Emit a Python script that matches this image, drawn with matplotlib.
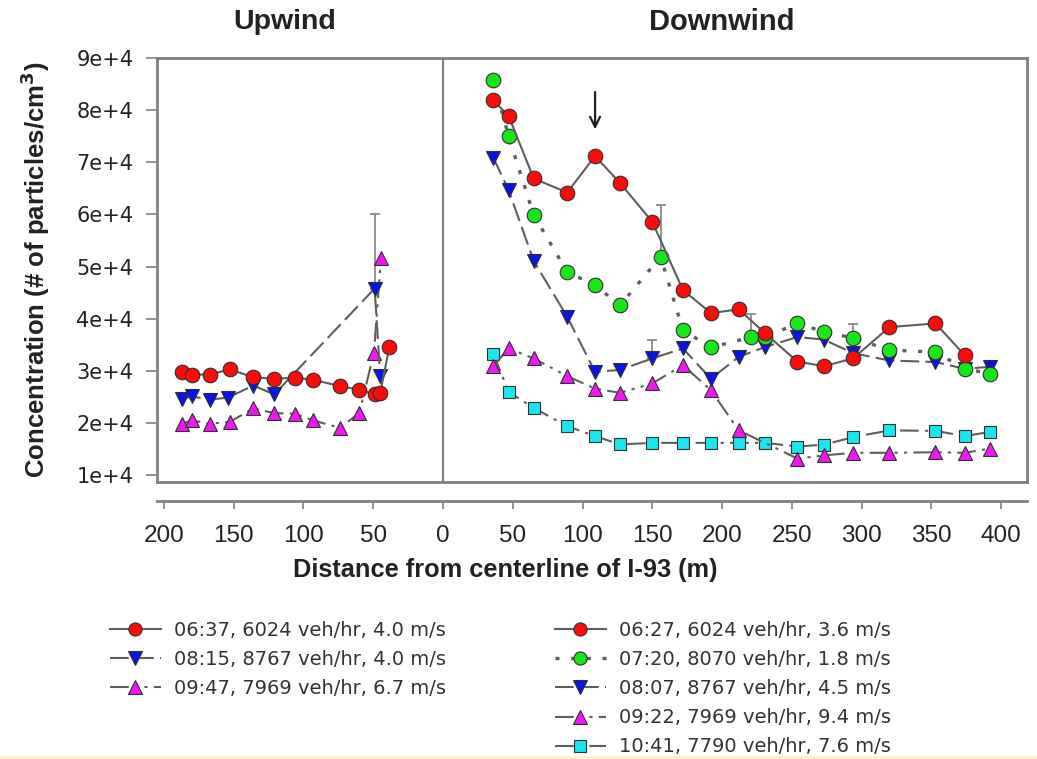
import matplotlib

matplotlib.use("Agg")
import matplotlib.pyplot as plt
from matplotlib.lines import Line2D
from matplotlib.ticker import FixedLocator, FuncFormatter

plt.rcParams["font.family"] = ["Liberation Sans", "DejaVu Sans"]

# upwind distances are stored as negative numbers, labels show abs value
up_x_0637 = [-187, -180, -167, -153, -136, -121, -106, -93, -74, -60, -49, -45, -38.5]
up_y_0637 = [29700, 29300, 29300, 30300, 28800, 28500, 28700, 28300, 27100, 26400, 25500, 25800, 34500]
up_x_0815 = [-187, -180, -167, -154, -136, -121, -49, -45]
up_y_0815 = [24700, 25100, 24500, 24900, 27200, 25500, 45800, 29000]
up_x_0947 = [-187, -180, -167, -153, -136, -121, -106, -93, -74, -60, -49.5, -44.5]
up_y_0947 = [19900, 20500, 19900, 20200, 22800, 21900, 21800, 20500, 19100, 21900, 33500, 51600]

dn_x_0627 = [36, 47, 65, 89, 109, 127, 150, 172, 192, 212, 231, 254, 273, 294, 320, 353, 374]
dn_y_0627 = [81900, 78900, 66900, 64200, 71200, 66000, 58600, 45500, 41100, 41800,
             37200, 31800, 30900, 32400, 38400, 39100, 33000]
dn_x_0720 = [36, 47, 65, 89, 109, 127, 156, 172, 192, 221, 231, 254, 273, 294, 320, 353, 374, 392]
dn_y_0720 = [85800, 75000, 59900, 49000, 46400, 42600, 51900, 37800, 34500, 36500,
             36500, 39100, 37500, 36300, 34000, 33600, 30400, 29500]
dn_x_0807 = [36, 47, 65, 89, 109, 127, 150, 172, 192, 212, 231, 254, 273, 294, 320, 353, 374, 392]
dn_y_0807 = [70900, 64700, 51100, 40400, 29800, 30200, 32400, 34300, 28500, 32700,
             34600, 36500, 36000, 33400, 32000, 31700, 30400, 30800]
dn_x_0922 = [36, 47, 65, 89, 109, 127, 150, 172, 192, 212, 254, 273, 294, 320, 353, 374, 392]
dn_y_0922 = [30900, 34300, 32400, 29000, 26600, 25800, 27600, 31100, 26300, 18600,
             13200, 13800, 14300, 14300, 14400, 14300, 15100]
dn_x_1041 = [36, 47, 65, 89, 109, 127, 150, 172, 192, 212, 231, 254, 273, 294, 320, 353, 374, 392]
dn_y_1041 = [33300, 26000, 22900, 19400, 17500, 15900, 16200, 16200, 16200, 16200,
             16200, 15500, 15850, 17300, 18600, 18500, 17500, 18300]

# upper-only error bars: (x, y, upper end)
err_x = [-49, 150, 156, 221, 294]
err_y = [45800, 32400, 51900, 36500, 36300]
err_top = [60000, 36000, 61800, 41000, 39000]

labels_up = ["06:37, 6024 veh/hr, 4.0 m/s", "08:15, 8767 veh/hr, 4.0 m/s",
             "09:47, 7969 veh/hr, 6.7 m/s"]
labels_dn = ["06:27, 6024 veh/hr, 3.6 m/s", "07:20, 8070 veh/hr, 1.8 m/s",
             "08:07, 8767 veh/hr, 4.5 m/s", "09:22, 7969 veh/hr, 9.4 m/s",
             "10:41, 7790 veh/hr, 7.6 m/s"]

xticks = list(range(-200, 401, 50))
yticks = [10000, 20000, 30000, 40000, 50000, 60000, 70000, 80000, 90000]

LINE = "#5e5e5e"
EDGE = "#303030"
TXT = "#222222"
SOLID = "-"
DASH = (0, (9, 3))
DOT = (0, (1.2, 3.5))
DASHDOT = (0, (9, 3, 1.5, 3, 1.5, 3))
CYANDASH = (0, (9, 3, 1.5, 3))

styles = {
    "red": dict(color=LINE, ls=SOLID, marker="o", mfc="#ff0a0a", ms=10.5),
    "green": dict(color=LINE, ls=DOT, marker="o", mfc="#17e617", ms=10.5, lw=2.4),
    "blue": dict(color=LINE, ls=DASH, marker="v", mfc="#0a14e6", ms=10.5),
    "mag": dict(color=LINE, ls=DASHDOT, marker="^", mfc="#f018f0", ms=10.5),
    "cyan": dict(color=LINE, ls=CYANDASH, marker="s", mfc="#19e6f0", ms=9),
}


def draw(ax, x, y, key, z):
    st = dict(lw=1.5, mec=EDGE, mew=0.8)
    st.update(styles[key])
    ax.plot(x, y, zorder=z, **st)


fig = plt.figure(figsize=(10.37, 7.59), dpi=100)
ax = fig.add_axes([157 / 1037, 1 - 482 / 759, 870 / 1037, 424 / 759])
ax.set_xlim(-205, 418.6)
ax.set_ylim(8700, 90000)

ax.axvline(0, color="#808080", lw=1.6, zorder=1)
ax.errorbar(err_x, err_y, yerr=[[0] * len(err_x), [t - v for t, v in zip(err_top, err_y)]],
            fmt="none", ecolor="#8a8a8a", elinewidth=1.3, capsize=3.5, capthick=1.3, zorder=2)

draw(ax, up_x_0947, up_y_0947, "mag", 3)
draw(ax, up_x_0815, up_y_0815, "blue", 4)
draw(ax, up_x_0637, up_y_0637, "red", 5)

draw(ax, dn_x_1041, dn_y_1041, "cyan", 3)
draw(ax, dn_x_0922, dn_y_0922, "mag", 4)
draw(ax, dn_x_0807, dn_y_0807, "blue", 5)
draw(ax, dn_x_0720, dn_y_0720, "green", 6)
draw(ax, dn_x_0627, dn_y_0627, "red", 7)

ax.annotate("", xy=(109, 75800), xytext=(109, 84000),
            arrowprops=dict(arrowstyle="->", color="#202020", lw=1.6, mutation_scale=18))

# frame + offset x axis
for s in ["left", "right", "top", "bottom"]:
    ax.spines[s].set_color("#808080")
    ax.spines[s].set_linewidth(2)
ax.spines["bottom"].set_position(("outward", 14))
ax.plot([0, 1], [0, 0], transform=ax.transAxes, color="#808080", lw=2, clip_on=False, zorder=1)

ax.xaxis.set_major_locator(FixedLocator(xticks))
ax.xaxis.set_major_formatter(FuncFormatter(lambda v, p: f"{abs(int(v))}"))
ax.yaxis.set_major_locator(FixedLocator(yticks))
ax.yaxis.set_major_formatter(FuncFormatter(lambda v, p: f"{int(v / 10000)}e+4"))
ax.tick_params(axis="x", direction="out", length=6, width=1.2, color="#808080",
               labelcolor=TXT, labelsize=17.5, pad=11)
ax.tick_params(axis="y", direction="out", length=8, width=1.2, color="#808080",
               labelcolor=TXT, pad=9)
for t in ax.get_yticklabels():
    t.set_fontfamily("DejaVu Sans")
    t.set_fontsize(15)

fig.text(285 / 1037, 1 - 22 / 759, "Upwind", ha="center", va="center",
         fontsize=20.5, fontweight="bold", color=TXT)
fig.text(722 / 1037, 1 - 22 / 759, "Downwind", ha="center", va="center",
         fontsize=21, fontweight="bold", color=TXT)
fig.text(505 / 1037, 1 - 570 / 759, "Distance from centerline of I-93 (m)", ha="center",
         va="center", fontsize=18.3, fontweight="bold", color=TXT)
fig.text(35 / 1037, 1 - 270 / 759, "Concentration (# of particles/cm$^\\mathbf{3}$)",
         ha="center", va="center", rotation=90, fontsize=18.5, fontweight="bold", color=TXT)


def handle(key):
    st = dict(lw=1.5, mec=EDGE, mew=0.8)
    st.update(styles[key])
    st["ms"] = st["ms"] * 0.9
    return Line2D([], [], **st)


leg_kw = dict(frameon=False, handlelength=2.6, handletextpad=0.7,
              labelspacing=0.52, borderpad=0, borderaxespad=0, labelcolor="#333333",
              prop=dict(family="DejaVu Sans", size=14))
fig.legend([handle("red"), handle("blue"), handle("mag")], labels_up,
           loc="upper left", bbox_to_anchor=(110 / 1037, 1 - 621 / 759), **leg_kw)
fig.legend([handle("red"), handle("green"), handle("blue"), handle("mag"), handle("cyan")],
           labels_dn, loc="upper left", bbox_to_anchor=(555 / 1037, 1 - 621 / 759), **leg_kw)

fig.add_artist(Line2D([0, 1], [1 - 757 / 759] * 2, color="#fff2c0", lw=2))

fig.savefig("out.png", dpi=100, facecolor="white")
